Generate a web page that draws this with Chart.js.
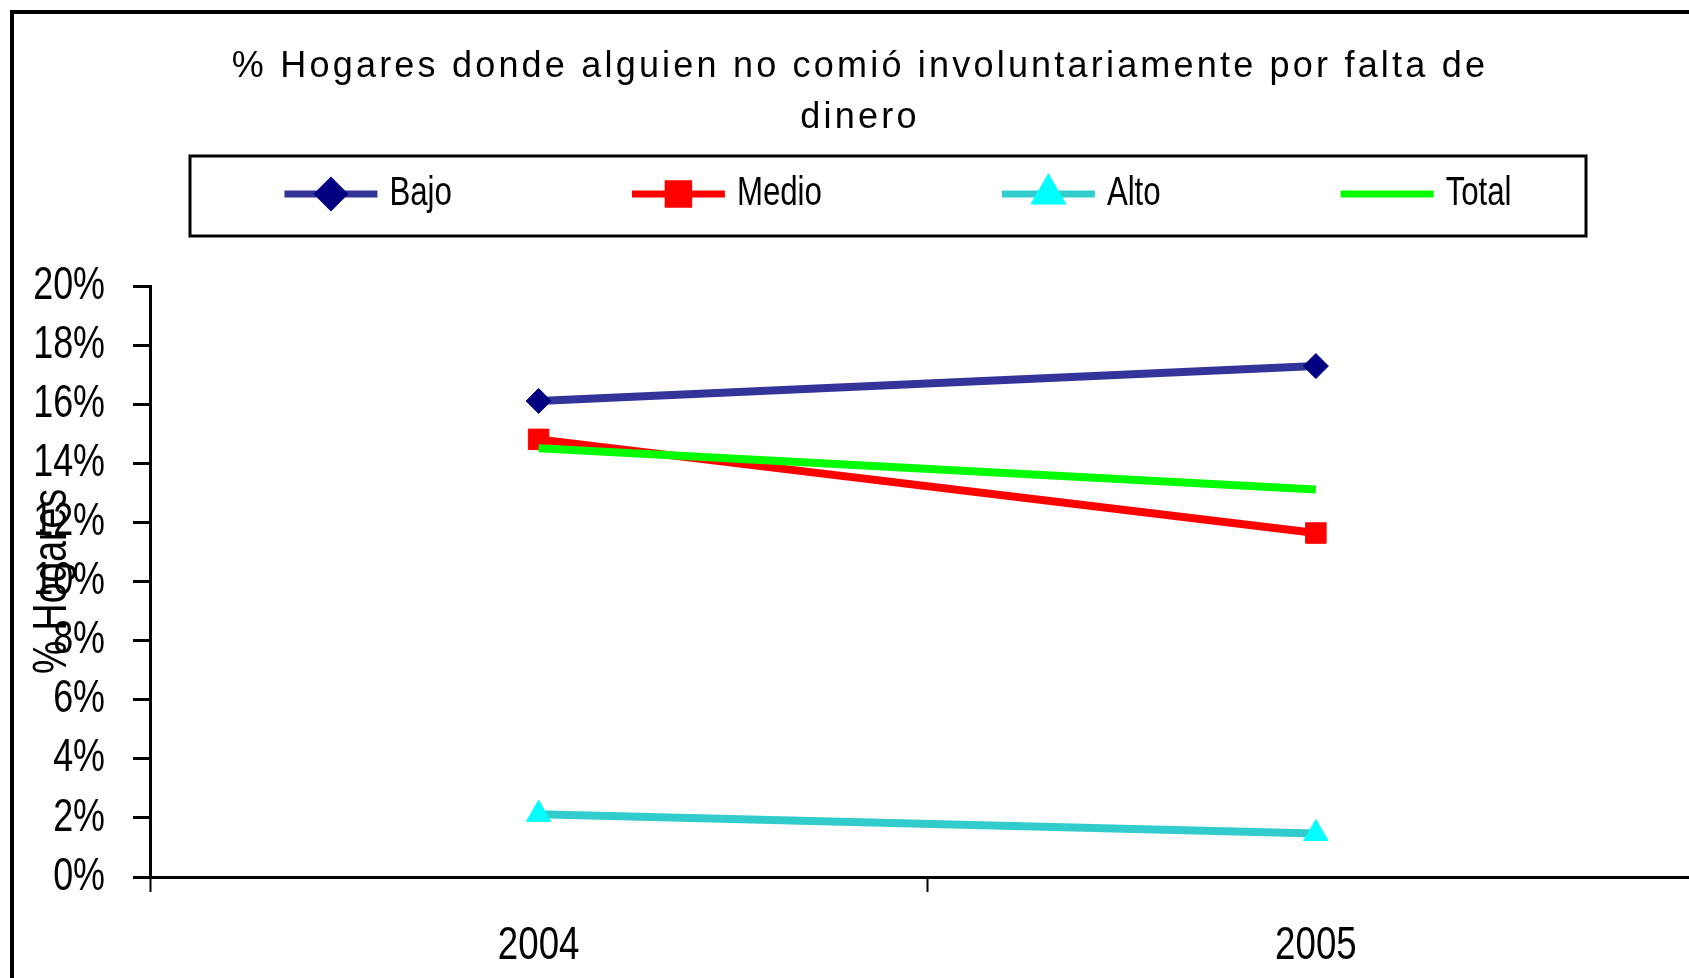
<!DOCTYPE html>
<html lang="es">
<head>
<meta charset="utf-8">
<title>% Hogares donde alguien no comió involuntariamente por falta de dinero</title>
<script src="https://cdn.jsdelivr.net/npm/chart.js@4.4.1/dist/chart.umd.min.js"></script>
<style>
    html, body { margin: 0; padding: 0; overflow: hidden; background: #fff; }
    #wrap { position: absolute; left: 0; top: 0; width: 1720px; height: 1000px; }
</style>
</head>
<body>
<div id="wrap"><canvas id="hogaresChart" width="1720" height="1000"></canvas></div>
<script>
// === DATOS ===
const YEARS = ['2004', '2005'];
const BAJO  = [16.11, 17.29];
const MEDIO = [14.81, 11.64];
const ALTO  = [2.12, 1.47];
const TOTAL = [14.51, 13.11];

// Eje Y en porcentaje
const Y_MIN = 0;
const Y_MAX = 20;
const Y_STEP = 2;

const TITLE_LINES = ['% Hogares donde alguien no comió involuntariamente por falta de', 'dinero'];
const Y_TITLE = '% Hogares';

// Fuentes
const NARROW = '"Liberation Sans Narrow", "Arial Narrow", "Liberation Sans", Arial, sans-serif';
const REGULAR = '"Liberation Sans", Arial, sans-serif';
const NARROW_SCALE = 0.78; // no hay Arial Narrow instalada: se comprime la normal

// Leyenda (recuadro estilo Excel)
const LEGEND = { cx: 898, cy: 194, sample: 93, gap: 12, itemGap: 180, box: [190, 156, 1396, 80] };

// Texto "narrow": comprime horizontalmente cuando la fuente pedida es Narrow
function narrowText(ctx) {
    const fill = ctx.fillText.bind(ctx);
    const measure = ctx.measureText.bind(ctx);
    ctx.fillText = function(text, x, y, maxWidth) {
        if (this.font.indexOf('Narrow') === -1) {
            return maxWidth === undefined ? fill(text, x, y) : fill(text, x, y, maxWidth);
        }
        this.save();
        this.translate(x, y);
        this.scale(NARROW_SCALE, 1);
        if (maxWidth === undefined) fill(text, 0, 0);
        else fill(text, 0, 0, maxWidth / NARROW_SCALE);
        this.restore();
    };
    ctx.measureText = function(text) {
        const m = measure(text);
        if (this.font.indexOf('Narrow') === -1) return m;
        return {
            width: m.width * NARROW_SCALE,
            actualBoundingBoxLeft: m.actualBoundingBoxLeft * NARROW_SCALE,
            actualBoundingBoxRight: m.actualBoundingBoxRight * NARROW_SCALE,
            actualBoundingBoxAscent: m.actualBoundingBoxAscent,
            actualBoundingBoxDescent: m.actualBoundingBoxDescent
        };
    };
}

// Título y leyenda dibujados a mano (Chart.js no hace letter-spacing ni recuadro)
const decorPlugin = {
    id: 'decor',
    beforeDraw(chart) {
        const ctx = chart.ctx;
        ctx.save();
        ctx.fillStyle = '#fff';
        ctx.fillRect(0, 0, chart.width, chart.height);
        // marco del gráfico (se sale por la derecha y abajo)
        ctx.strokeStyle = '#000';
        ctx.lineWidth = 4;
        ctx.strokeRect(12, 12, chart.width + 100, chart.height + 100);
        ctx.restore();
    },
    afterDraw(chart) {
        const ctx = chart.ctx;
        ctx.save();

        // Título
        ctx.font = '36px ' + REGULAR;
        ctx.fillStyle = '#000';
        ctx.textAlign = 'center';
        ctx.textBaseline = 'middle';
        if ('letterSpacing' in ctx) ctx.letterSpacing = '3.2px';
        TITLE_LINES.forEach((line, i) => ctx.fillText(line, chart.width / 2, 67 + i * 51));
        if ('letterSpacing' in ctx) ctx.letterSpacing = '0px';

        // Recuadro de la leyenda
        const [bx, by, bw, bh] = LEGEND.box;
        ctx.strokeStyle = '#000';
        ctx.lineWidth = 3;
        ctx.strokeRect(bx, by, bw, bh);

        // Items
        ctx.font = '40px ' + NARROW;
        ctx.textAlign = 'left';
        const datasets = chart.data.datasets;
        const widths = datasets.map(ds => LEGEND.sample + LEGEND.gap + ctx.measureText(ds.label).width);
        const total = widths.reduce((a, b) => a + b, 0) + LEGEND.itemGap * (datasets.length - 1);
        let x = LEGEND.cx - total / 2;
        datasets.forEach((ds, i) => {
            const y = LEGEND.cy;
            ctx.strokeStyle = ds.borderColor;
            ctx.lineWidth = 7;
            ctx.beginPath();
            ctx.moveTo(x, y);
            ctx.lineTo(x + LEGEND.sample, y);
            ctx.stroke();
            if (ds.pointRadius > 0) {
                ctx.fillStyle = ds.pointBackgroundColor;
                ctx.strokeStyle = ds.pointBorderColor;
                Chart.helpers.drawPoint(ctx, {
                    pointStyle: ds.pointStyle,
                    radius: ds.pointRadius,
                    rotation: 0,
                    borderWidth: ds.pointBorderWidth
                }, x + LEGEND.sample / 2, y);
            }
            ctx.fillStyle = '#000';
            ctx.fillText(ds.label, x + LEGEND.sample + LEGEND.gap, y);
            x += widths[i] + LEGEND.itemGap;
        });
        ctx.restore();
    }
};

function serie(label, data, lineColor, markerColor, style, radius, order) {
    return {
        label: label,
        data: data,
        borderColor: lineColor,
        backgroundColor: lineColor,
        borderWidth: 8,
        tension: 0,
        fill: false,
        pointStyle: style,
        pointRadius: radius,
        pointHoverRadius: radius,
        pointBackgroundColor: markerColor,
        pointBorderColor: markerColor,
        pointBorderWidth: radius > 0 ? 1 : 0,
        order: order
    };
}

const ctx = document.getElementById('hogaresChart').getContext('2d');
narrowText(ctx);

new Chart(ctx, {
    type: 'line',
    data: {
        labels: YEARS,
        datasets: [
            serie('Bajo',  BAJO,  '#333399', '#000080', 'rectRot', 12.5, 4),
            serie('Medio', MEDIO, '#FF0000', '#FF0000', 'rect', 14.5, 3),
            serie('Alto',  ALTO,  '#33CCCC', '#00FFFF', 'triangle', 14, 2),
            serie('Total', TOTAL, '#00FF00', '#00FF00', 'circle', 0, 1)
        ]
    },
    options: {
        responsive: false,
        animation: false,
        events: [],
        layout: { padding: { top: 286, left: 0, right: 12, bottom: 0 } },
        plugins: {
            legend: { display: false },
            title: { display: false },
            tooltip: { enabled: false }
        },
        scales: {
            x: {
                offset: true,
                grid: {
                    offset: true,
                    drawOnChartArea: false,
                    tickLength: 15,
                    tickColor: '#000',
                    tickWidth: 2
                },
                border: { display: true, color: '#000', width: 3 },
                ticks: {
                    color: '#000',
                    padding: 26,
                    font: { family: NARROW, size: 47 }
                },
                afterFit(scale) { scale.height = 1000 - 877; }
            },
            y: {
                min: Y_MIN,
                max: Y_MAX,
                grid: {
                    drawOnChartArea: false,
                    tickLength: 17,
                    tickColor: '#000',
                    tickWidth: 3
                },
                border: { display: true, color: '#000', width: 3 },
                ticks: {
                    stepSize: Y_STEP,
                    color: '#000',
                    padding: 28,
                    font: { family: NARROW, size: 46 },
                    callback: v => v + '%'
                },
                title: {
                    display: true,
                    text: Y_TITLE,
                    color: '#000',
                    padding: { top: 24, bottom: 0 },
                    font: { family: NARROW, size: 48 }
                },
                afterFit(scale) { scale.width = 150; }
            }
        }
    },
    plugins: [decorPlugin]
});
</script>
</body>
</html>
